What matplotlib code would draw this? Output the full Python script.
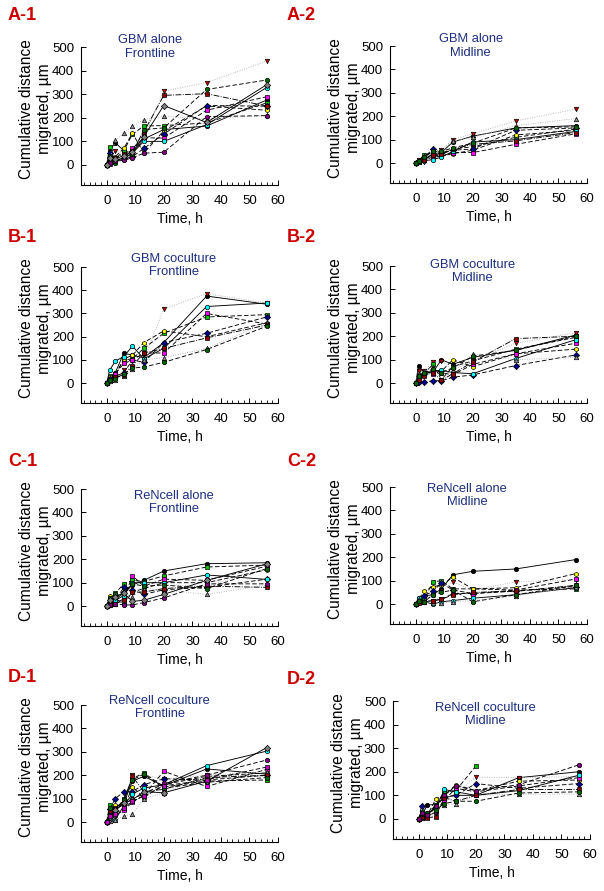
import numpy as np
import matplotlib
matplotlib.use('Agg')
import matplotlib.pyplot as plt
from matplotlib.ticker import MultipleLocator

plt.rcParams['font.family'] = ['Liberation Sans', 'DejaVu Sans']

# sampling times (h)
time_h = [0, 1, 3, 6, 9, 13, 20, 35, 56]
nan = np.nan

# ── cumulative distance (um) per tracked cell ──
gbm_alone_front = [
    [0, 60, 95, 60, 50, 110, 150, 165, 275],
    [0, 10, 60, 45, 60, 120, 313, 349, 440],
    [0, 75, 25, 60, 130, 165, 167, 178, 263],
    [0, 25, 35, 70, 135, 50, 145, 250, 232],
    [0, 50, 20, 30, 35, 70, 131, 252, 249],
    [0, 5, 15, 25, 70, 115, 114, 232, 289],
    [0, 35, 20, 30, 50, 100, 100, 171, 328],
    [0, 20, 105, 135, 165, 192, 206, 195, 210],
    [0, 15, 30, 45, 60, 140, 295, 302, 250],
    [0, 40, 10, 35, 45, 150, 157, 320, 360],
    [0, 10, 15, 20, 30, 50, 54, 205, 209],
    [0, 30, 25, 40, 55, 120, 252, 180, 340],
]
gbm_alone_mid = [
    [0, 10, 15, 40, 45, 90, 115, 150, 160],
    [0, 15, 5, 30, 55, 100, 125, 180, 230],
    [0, 5, 35, 45, 35, 60, 70, 110, 145],
    [0, 8, 20, 35, 30, 40, 55, 120, 140],
    [0, 10, 25, 60, 45, 55, 60, 140, 150],
    [0, 5, 15, 25, 30, 45, 45, 80, 125],
    [0, 5, 10, 15, 25, 50, 90, 100, 135],
    [0, 12, 20, 45, 50, 95, 110, 160, 190],
    [0, 10, 15, 35, 40, 60, 80, 95, 130],
    [0, 8, 25, 50, 50, 65, 85, 150, 155],
]
gbm_cocult_front = [
    [0, 20, 45, 130, 120, 110, 175, 375, 340],
    [0, 15, 30, 55, 70, 100, 320, 385, 345],
    [0, 30, 40, 100, 105, 150, 215, 285, 295],
    [0, 25, 35, 105, 120, 175, 225, 200, 260],
    [0, 20, 30, 45, 100, 90, 175, 215, 285],
    [0, 15, 40, 85, 100, 130, 130, 300, 255],
    [0, 55, 95, 115, 160, 105, 150, 330, 345],
    [0, 10, 15, 30, 60, 100, 110, 150, 260],
    [0, 12, 25, 35, 75, 130, 150, 195, 250],
    [0, 15, 20, 40, 65, 70, 90, 145, 245],
]
gbm_cocult_mid = [
    [0, 75, 45, 45, 100, 80, 110, 140, 205],
    [0, 50, 50, 90, 95, 55, 95, 170, 215],
    [0, 35, 40, 80, 15, 70, 95, 145, 195],
    [0, 20, 45, 55, 50, 100, 70, 125, 145],
    [0, 5, 5, 10, 10, 25, 35, 75, 120],
    [0, 30, 40, 40, 45, 35, 80, 125, 170],
    [0, 25, 45, 50, 55, 45, 40, 105, 185],
    [0, 40, 50, 70, 15, 55, 125, 100, 110],
    [0, 15, 30, 45, 12, 40, 90, 190, 200],
    [0, 30, 45, 60, 45, 65, 115, 140, 200],
]
ren_alone_front = [
    [0, 20, 30, 55, 90, 110, 150, 181, 185],
    [0, 10, 20, 45, 85, 100, 90, 85, 160],
    [0, 25, 55, 95, 110, 105, 129, 167, 175],
    [0, 45, 30, 10, 60, 75, 100, 100, 155],
    [0, 15, 25, 80, 70, 50, 70, 80, 115],
    [0, 10, 15, 30, 130, 85, 115, 110, 170],
    [0, 30, 25, 45, 100, 100, 100, 133, 114],
    [0, 5, 10, 20, 40, 75, 70, 50, 90],
    [0, 15, 10, 25, 60, 60, 75, 85, 80],
    [0, 35, 50, 60, 95, 85, 90, 75, 160],
    [0, 5, 10, 5, 5, 15, 35, 95, 95],
    [0, 25, 40, 55, 20, 25, 50, 110, 180],
]
ren_alone_mid = [
    [0, 25, 35, 40, 65, 125, 140, 150, 190],
    [0, 10, 15, 40, 55, 95, 60, 95, 105],
    [0, 15, 20, 95, 100, 65, 65, 60, 65],
    [0, 20, 55, 75, 80, 115, 65, 70, 130],
    [0, 15, 35, 55, 90, 60, 45, 55, 75],
    [0, 10, 10, 15, 20, 45, 45, 60, 107],
    [0, 25, 10, 0, 10, 15, 25, 40, 70],
    [0, 20, 10, 5, 5, 10, 15, 35, 75],
    [0, 5, 10, 15, 20, 40, 50, 55, 80],
    [0, 15, 10, 40, 50, 60, 10, 40, 80],
]
ren_cocult_front = [
    [0, 40, 65, 80, 175, 195, 155, 227, 205],
    [0, 25, 55, 95, 200, 200, 185, 200, 195],
    [0, 75, 45, 100, 185, 210, 150, 175, 180],
    [0, 35, 75, 60, 150, 105, 160, 195, 210],
    [0, 55, 100, 130, 130, 160, 185, 180, 200],
    [0, 15, 30, 50, 85, 115, 217, 152, 225],
    [0, 15, 10, 70, 120, 145, 160, 241, 303],
    [0, 5, 10, 25, 35, 100, 125, 200, 215],
    [0, 45, 60, 90, 195, 130, 140, 190, 200],
    [0, 60, 40, 95, 180, 205, 145, 170, 190],
    [0, 30, 55, 75, 100, 120, 165, 200, 265],
    [0, 20, 50, 80, 95, 130, 125, 175, 318],
    [0, 25, 35, 60, 90, 110, 155, 180, 235],
]
ren_cocult_mid = [
    [0, 10, 60, 60, 90, 100, 100, 175, 200],
    [0, 5, 10, 20, 70, 110, 177, 175, 180],
    [0, 30, 20, 60, 115, 120, 224, nan, nan],
    [0, 10, 15, 85, 100, 145, 120, 160, 165],
    [0, 55, 20, 50, 95, 100, 150, 130, 150],
    [0, 5, 10, 30, 80, 130, 115, 140, 175],
    [0, 15, 25, 45, 125, 115, 100, 120, 185],
    [0, 5, 15, 35, 60, 65, 100, 105, 106],
    [0, 10, 5, 10, 90, 75, 100, 125, 125],
    [0, 20, 25, 40, 65, 75, 75, 110, 115],
    [0, 25, 15, 55, 100, 140, 120, 145, 229],
]

panel_tags = ['A-1', 'A-2', 'B-1', 'B-2', 'C-1', 'C-2', 'D-1', 'D-2']
panel_titles = ['GBM alone\nFrontline', 'GBM alone\nMidline',
                'GBM coculture\nFrontline', 'GBM coculture\nMidline',
                'ReNcell alone\nFrontline', 'ReNcell alone\nMidline',
                'ReNcell coculture\nFrontline', 'ReNcell coculture\nMidline']
panel_data = [gbm_alone_front, gbm_alone_mid, gbm_cocult_front, gbm_cocult_mid,
              ren_alone_front, ren_alone_mid, ren_cocult_front, ren_cocult_mid]

# ── styling (SigmaPlot-like incrementing symbols) ──
LONG = (0, (5, 2.5))
STYLES = [
    dict(marker='o', mfc='black',   ls='-',  color='black'),
    dict(marker='v', mfc='#C00000', ls=':',  color='#b0b0b0'),
    dict(marker='s', mfc='#00C000', ls=LONG, color='black'),
    dict(marker='h', mfc='#FFFF00', ls=LONG, color='black'),
    dict(marker='D', mfc='#000090', ls=LONG, color='black'),
    dict(marker='s', mfc='#FF00FF', ls=LONG, color='black'),
    dict(marker='o', mfc='#00FFFF', ls='-',  color='black'),
    dict(marker='^', mfc='#909090', ls=':',  color='#b0b0b0'),
    dict(marker='s', mfc='#900000', ls='-.', color='black'),
    dict(marker='o', mfc='#006400', ls=LONG, color='black'),
    dict(marker='o', mfc='#800080', ls=LONG, color='black'),
    dict(marker='D', mfc='#808080', ls='-',  color='black'),
    dict(marker='s', mfc='#C000C0', ls=LONG, color='black'),
]

TAG_RED = '#CC0000'
TITLE_BLUE = '#1C2E7E'

W, H = 604, 891
# axes boxes in pixels: left, top, bottom
boxes = [(81, 47, 185), (390, 46, 183),
         (81, 267, 403), (390, 266, 403),
         (81, 489, 626), (390, 487, 624),
         (81, 705, 842), (393, 701, 839)]
ax_w = 197
title_pos = [(0.35, 1.0), (0.41, 1.0), (0.47, 1.01), (0.42, 0.96),
             (0.47, 0.90), (0.39, 0.94), (0.40, 0.98), (0.47, 0.90)]
tag_pos = [(8, 16), (287, 16), (8, 238), (287, 238),
           (8, 462), (287, 462), (8, 678), (287, 680)]

fig = plt.figure(figsize=(W / 100, H / 100), dpi=100)

for i in range(8):
    left, top, bottom = boxes[i]
    ax = fig.add_axes([left / W, 1 - bottom / H, ax_w / W, (bottom - top) / H])

    for k, series in enumerate(panel_data[i]):
        st = STYLES[k % len(STYLES)]
        ax.plot(time_h, series, linestyle=st['ls'], color=st['color'], lw=0.65,
                marker=st['marker'], markersize=3.2, markerfacecolor=st['mfc'],
                markeredgecolor='black', markeredgewidth=0.5, zorder=3 + k * 0.01)

    ax.set_xlim(-9, 60)
    ax.set_ylim(-85, 500)
    ax.set_xticks([0, 10, 20, 30, 40, 50, 60])
    ax.xaxis.set_minor_locator(MultipleLocator(2))
    ax.set_yticks([0, 100, 200, 300, 400, 500])
    for s in ['top', 'right']:
        ax.spines[s].set_visible(False)
    for s in ['left', 'bottom']:
        ax.spines[s].set_linewidth(0.8)
    ax.tick_params(which='major', direction='in', length=3.5, width=0.7,
                   labelsize=9.5, pad=5)
    ax.tick_params(axis='x', which='major', pad=7)
    ax.tick_params(which='minor', direction='in', length=2, width=0.6)

    ax.set_xlabel('Time, h', fontsize=10, labelpad=4)
    ax.set_ylabel('Cumulative distance\nmigrated, µm', fontsize=11.2,
                  linespacing=1.25)
    ax.yaxis.set_label_coords(-0.145, 0.55)

    tx, ty = title_pos[i]
    ax.text(tx, ty, panel_titles[i], transform=ax.transAxes, ha='center',
            va='center', fontsize=9.3, color=TITLE_BLUE, linespacing=1.15)

    px, py = tag_pos[i]
    fig.text(px / W, 1 - py / H, panel_tags[i], ha='left', va='center',
             fontsize=13, fontweight='bold', color=TAG_RED)

fig.savefig('out.png', dpi=100)
plt.close(fig)
